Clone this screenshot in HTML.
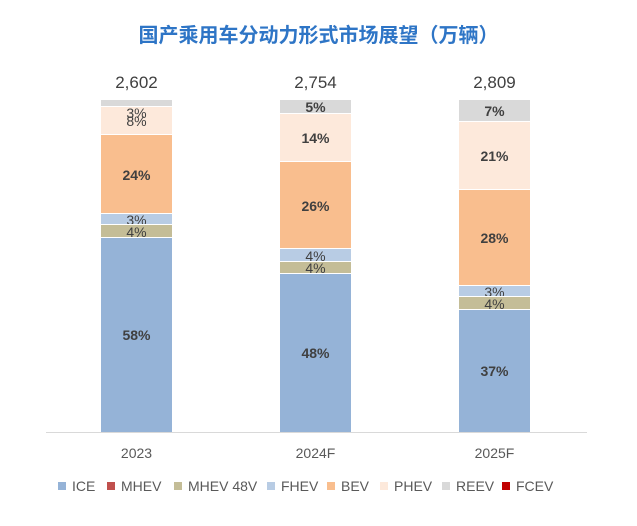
<!DOCTYPE html>
<html><head><meta charset="utf-8"><style>
body{margin:0;width:637px;height:526px;background:#fff;position:relative;font-family:"Liberation Sans","Noto Sans CJK SC",sans-serif;overflow:hidden}
.a{position:absolute}
.s{position:absolute;left:0;width:71px;display:flex;align-items:center;justify-content:center;font-size:14px;color:#404040;box-sizing:border-box;border-top:1px solid #fff}
.b{font-weight:bold}
.t{position:absolute;width:71px;text-align:center;font-size:17px;color:#404040;top:73px}
.x{position:absolute;width:71px;text-align:center;font-size:14px;color:#595959;top:445px}
.lg{position:absolute;top:478px;font-size:14px;color:#595959;display:flex;align-items:center}
.lg i{display:inline-block;width:8px;height:8px;margin-right:6px}
</style></head><body>
<div class="a" style="top:19px;left:0;width:637px;text-align:center;font-size:20px;font-weight:bold;color:#2e75c6">国产乘用车分动力形式市场展望（万辆）</div>
<div class="a" style="left:46px;top:432px;width:541px;height:1px;background:#d9d9d9"></div>

<div class="a" style="left:101px;top:0">
<div class="s" style="top:99px;height:8px;background:#d9d9d9"></div>
<div class="s" style="top:106px;height:28px;background:#fde9db;align-items:flex-start;line-height:12px;padding-top:0"><div style="text-align:center">3%<br><span style="position:relative;top:-4px">8%</span></div></div>
<div class="s b" style="top:134px;height:80px;background:#f9be8e">24%</div>
<div class="s" style="top:213px;height:12px;background:#b8cce4">3%</div>
<div class="s" style="top:224px;height:14px;background:#c4bd97">4%</div>
<div class="s b" style="top:237px;height:195px;background:#95b3d7">58%</div>
</div>
<div class="t" style="left:101px">2,602</div>

<div class="a" style="left:280px;top:0">
<div class="s b" style="top:99px;height:15px;background:#d9d9d9">5%</div>
<div class="s b" style="top:113px;height:49px;background:#fde9db">14%</div>
<div class="s b" style="top:161px;height:88px;background:#f9be8e">26%</div>
<div class="s" style="top:248px;height:14px;background:#b8cce4">4%</div>
<div class="s" style="top:261px;height:13px;background:#c4bd97">4%</div>
<div class="s b" style="top:273px;height:159px;background:#95b3d7">48%</div>
</div>
<div class="t" style="left:280px">2,754</div>

<div class="a" style="left:459px;top:0">
<div class="s b" style="top:99px;height:23px;background:#d9d9d9">7%</div>
<div class="s b" style="top:121px;height:69px;background:#fde9db">21%</div>
<div class="s b" style="top:189px;height:97px;background:#f9be8e">28%</div>
<div class="s" style="top:285px;height:12px;background:#b8cce4">3%</div>
<div class="s" style="top:296px;height:14px;background:#c4bd97">4%</div>
<div class="s b" style="top:309px;height:123px;background:#95b3d7">37%</div>
</div>
<div class="t" style="left:459px">2,809</div>

<div class="x" style="left:101px">2023</div>
<div class="x" style="left:280px">2024F</div>
<div class="x" style="left:459px">2025F</div>

<div class="lg" style="left:58px"><i style="background:#95b3d7"></i>ICE</div>
<div class="lg" style="left:107px"><i style="background:#c0504d"></i>MHEV</div>
<div class="lg" style="left:174px"><i style="background:#c4bd97"></i>MHEV 48V</div>
<div class="lg" style="left:267px"><i style="background:#b8cce4"></i>FHEV</div>
<div class="lg" style="left:327px"><i style="background:#f9be8e"></i>BEV</div>
<div class="lg" style="left:380px"><i style="background:#fde9db"></i>PHEV</div>
<div class="lg" style="left:442px"><i style="background:#d9d9d9"></i>REEV</div>
<div class="lg" style="left:502px"><i style="background:#c00000"></i>FCEV</div>
</body></html>
